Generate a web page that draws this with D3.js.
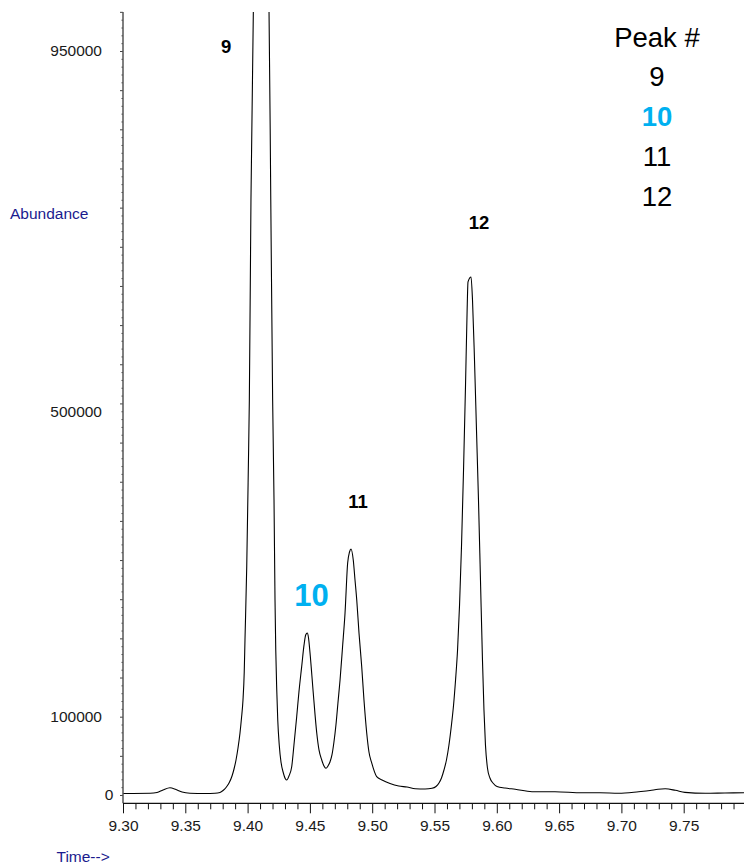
<!DOCTYPE html>
<html><head><meta charset="utf-8">
<script src="https://cdn.jsdelivr.net/npm/d3@7"></script>
<style>body{margin:0;background:#fff}svg{display:block}</style>
</head><body><svg id="c" width="744" height="867"></svg>
<script>
// ---- data (retention time in min, abundance) ----
const times = [9.3000,9.3217,9.3273,9.3321,9.3377,9.3425,9.3474,9.3538,9.3658,9.3738,
9.3778,9.3803,9.3827,9.3851,9.3875,9.3891,9.3907,9.3923,9.3939,9.3951,
9.3963,9.3973,9.3979,9.3993,9.4006,9.4014,9.4027,9.4046,9.4108,9.4172,
9.4186,9.4201,9.4212,9.4220,9.4226,9.4234,9.4242,9.4254,9.4268,9.4287,
9.4304,9.4314,9.4332,9.4354,9.4372,9.4394,9.4412,9.4434,9.4453,9.4466,
9.4479,9.4489,9.4501,9.4527,9.4555,9.4573,9.4595,9.4613,9.4629,9.4645,
9.4661,9.4677,9.4693,9.4709,9.4725,9.4742,9.4762,9.4782,9.4803,9.4818,
9.4830,9.4848,9.4862,9.4876,9.4894,9.4916,9.4934,9.4956,9.4974,9.4996,
9.5036,9.5079,9.5143,9.5213,9.5279,9.5346,9.5424,9.5480,9.5512,9.5536,
9.5556,9.5576,9.5596,9.5616,9.5636,9.5653,9.5669,9.5685,9.5701,9.5717,
9.5733,9.5749,9.5761,9.5769,9.5793,9.5805,9.5821,9.5837,9.5853,9.5869,
9.5885,9.5897,9.5909,9.5925,9.5945,9.5969,9.6002,9.6066,9.6148,9.6282,
9.6467,9.6684,9.6828,9.6978,9.7139,9.7230,9.7294,9.7352,9.7433,9.7510,
9.7673,9.7831,9.7984];
const abundance = [1900,2200,3200,6400,9200,7000,3800,2300,1900,2200,
3200,5700,9600,15300,24300,33200,44700,60000,79200,98300,
121300,157100,197900,291200,418900,504500,759900,1000000,1250000,1000000,
759900,504500,376700,249000,185200,134100,95800,63900,42100,28100,
20400,19200,24300,36100,63900,100000,131500,163900,191600,204300,
206900,200500,181300,130300,79200,57500,44700,37000,34100,37000,
42100,51100,67700,89400,117500,146900,189000,232400,296300,310300,
314200,300100,274600,249000,206900,163500,121300,79200,54900,40900,
23400,19200,14700,11500,10200,8000,7700,8600,10900,15300,
21700,31900,44700,63900,89400,114900,146900,185200,242600,319300,
415100,523600,613000,655200,661500,632100,555500,466100,376700,274600,
172400,108600,63900,34500,21700,15300,10900,8900,7300,4200,
4200,2900,2900,2200,4200,5700,7300,7900,6000,3400,
2200,2600,2900];

const yTickValues = [0, 100000, 500000, 950000];
const xTickValues = [9.30, 9.35, 9.40, 9.45, 9.50, 9.55, 9.60, 9.65, 9.70, 9.75];
const peakNames = ["9", "10", "11", "12"];
const peakLabelTimes = [9.3827, 9.4513, 9.4886, 9.5857];
const peakLabelValues = [956500, 255000, 375500, 731800];
const highlightPeak = "10";

// ---- layout ----
const W = 744, H = 867;
const left = 123, plotTop = 12, axisY = 803.3;
const font = "'Liberation Sans', Arial, Helvetica, sans-serif";
const blue = "#00B0F0", navy = "#1a1a8e";

const svg = d3.select("#c");
const x = d3.scaleLinear().domain([9.30, 9.80]).range([left, 746]);
const y = d3.scaleLinear().domain([0, 950000]).range([795, 51]);

svg.append("defs").append("clipPath").attr("id", "clip")
  .append("rect").attr("x", left).attr("y", plotTop)
  .attr("width", W - left).attr("height", axisY - plotTop);

// trace
const pts = times.map((t, i) => [t, abundance[i]]);
svg.append("path")
  .attr("clip-path", "url(#clip)")
  .attr("d", d3.line().x(d => x(d[0])).y(d => y(d[1])).curve(d3.curveMonotoneX)(pts))
  .attr("fill", "none").attr("stroke", "#000").attr("stroke-width", 1.1);

// y axis
const yMinor = d3.range(0, 1000001, 10000).filter(v => v % 50000 !== 0);
const yMajor = d3.range(0, 1000001, 50000);
function styleAxis(g) { g.select(".domain").remove(); g.selectAll("line").attr("stroke", "#444"); }
svg.append("g").attr("transform", `translate(${left},0)`)
  .call(d3.axisLeft(y).tickValues(yMinor).tickSize(1.5).tickFormat(""))
  .call(styleAxis);
svg.append("g").attr("transform", `translate(${left},0)`)
  .call(d3.axisLeft(y).tickValues(yMajor).tickSize(3).tickFormat(""))
  .call(styleAxis);
const yl = svg.append("g").attr("transform", `translate(${left},0)`)
  .call(d3.axisLeft(y).tickValues(yTickValues).tickSize(0).tickPadding(21).tickFormat(d3.format("d")));
yl.select(".domain").remove();
yl.selectAll("text").attr("font-family", font).attr("font-size", 15.5).attr("fill", "#1a1a1a")
  .attr("x", d => d === 0 ? -9.7 : -21)
  .attr("dy", d => d === 500000 ? "0.85em" : "0.32em");
svg.append("line").attr("x1", left).attr("x2", left).attr("y1", plotTop).attr("y2", axisY)
  .attr("stroke", "#555").attr("stroke-width", 1.5);

// x axis
const xMinor = d3.range(0, 50).map(i => 9.30 + i * 0.01).filter((v, i) => i % 5 !== 0);
const xg1 = svg.append("g").attr("transform", `translate(0,${axisY})`)
  .call(d3.axisBottom(x).tickValues(xMinor).tickSize(6).tickFormat(""));
xg1.select(".domain").remove();
xg1.selectAll("line").attr("stroke", "#111");
const xg2 = svg.append("g").attr("transform", `translate(0,${axisY})`)
  .call(d3.axisBottom(x).tickValues(xTickValues).tickSize(10).tickPadding(7).tickFormat(d3.format(".2f")));
xg2.select(".domain").remove();
xg2.selectAll("line").attr("stroke", "#111");
xg2.selectAll("text").attr("font-family", font).attr("font-size", 15.5).attr("fill", "#1a1a1a");
svg.append("line").attr("x1", left).attr("x2", W).attr("y1", axisY).attr("y2", axisY)
  .attr("stroke", "#111").attr("stroke-width", 1.3);

// axis titles
svg.append("text").attr("x", 10).attr("y", 213 + 0.36 * 15.5).text("Abundance")
  .attr("font-family", font).attr("font-size", 15.5).attr("fill", navy);
svg.append("text").attr("x", 56.5).attr("y", 856.5 + 0.36 * 15.5).text("Time-->")
  .attr("font-family", font).attr("font-size", 15.5).attr("fill", navy);

// peak labels
peakNames.forEach((p, i) => {
  const hi = p === highlightPeak;
  const fs = hi ? 31 : 18.5;
  svg.append("text").attr("x", x(peakLabelTimes[i])).attr("y", y(peakLabelValues[i]) + 0.358 * fs)
    .attr("text-anchor", "middle").attr("font-family", font).attr("font-weight", "bold")
    .attr("font-size", fs).attr("fill", hi ? blue : "#000").text(p);
});

// legend
const lx = 657, lfs = 27.5;
svg.append("text").attr("x", lx).attr("y", 37 + 0.358 * lfs).attr("text-anchor", "middle")
  .attr("font-family", font).attr("font-size", lfs).attr("fill", "#000").text("Peak #");
peakNames.forEach((p, i) => {
  const hi = p === highlightPeak;
  svg.append("text").attr("x", lx).attr("y", 76.5 + i * 40 + 0.358 * lfs).attr("text-anchor", "middle")
    .attr("font-family", font).attr("font-size", lfs).attr("font-weight", hi ? "bold" : "normal")
    .attr("fill", hi ? blue : "#000").text(p);
});
</script></body></html>
